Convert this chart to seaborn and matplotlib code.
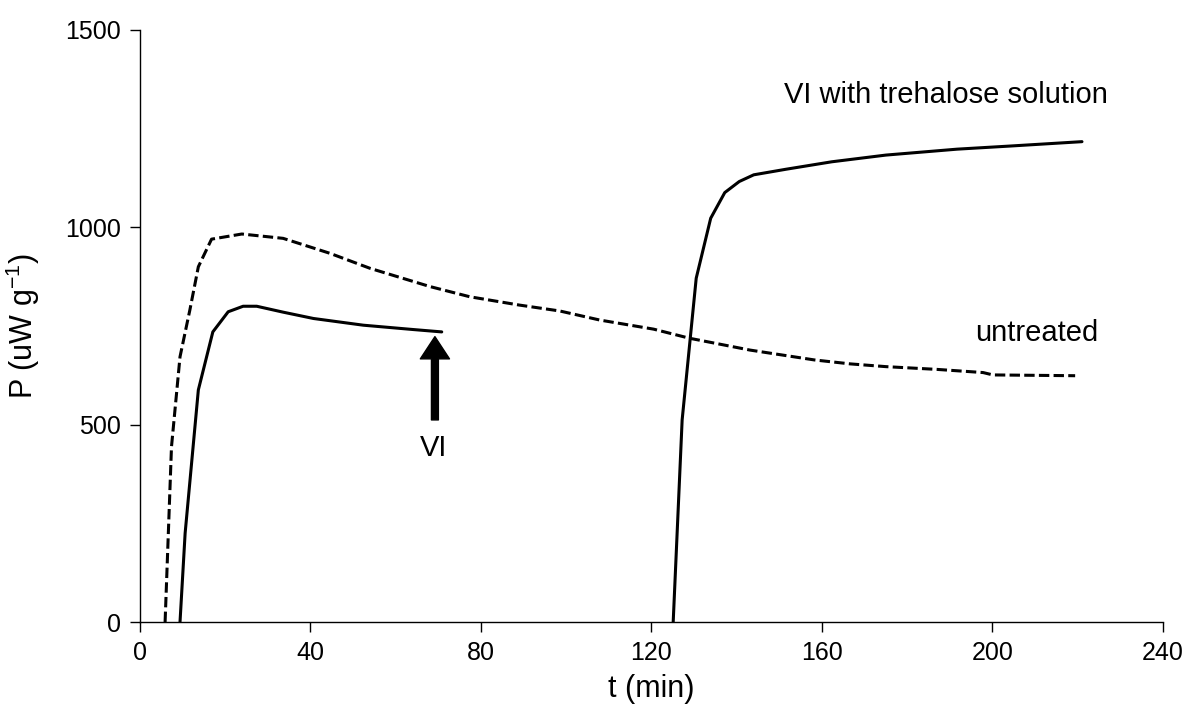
import matplotlib
matplotlib.use("Agg")
import matplotlib.pyplot as plt
import seaborn as sns
import pandas as pd

# Heat flow P (uW g^-1) versus time t (min)
untreated_t = [5.9, 7.4, 9.4, 11.7, 13.7, 16.8, 23.9, 33.6, 44.6, 54.0, 68.0, 77.4,
               89.0, 98.5, 107.9, 120.5, 128.9, 143.1, 158.2, 166.6, 175.0, 187.0,
               197.8, 200.1, 219.4]
untreated_p = [0, 444, 672, 790, 900, 970, 983, 972, 934, 896, 850, 824,
               803, 788, 765, 742, 719, 689, 664, 654, 647, 640,
               632, 626, 624]

vi_t = [9.4, 10.6, 13.7, 17.1, 20.7, 24.2, 27.4, 33.6, 40.7, 52.4, 64.1, 70.8]
vi_p = [0, 225, 588, 735, 786, 800, 800, 785, 769, 752, 741, 735]

treh_t = [125.1, 127.2, 130.5, 133.9, 137.2, 140.6, 144.0, 151.5, 162.3, 175.0,
          191.7, 204.3, 221.0]
treh_p = [0, 512, 871, 1023, 1088, 1116, 1133, 1147, 1166, 1183, 1198, 1206, 1217]

x_ticks = [0, 40, 80, 120, 160, 200, 240]
y_ticks = [0, 500, 1000, 1500]

sns.set_theme(style="ticks")
plt.rcParams["font.family"] = ["Liberation Sans", "DejaVu Sans"]
plt.rcParams["mathtext.fontset"] = "custom"
plt.rcParams["mathtext.rm"] = "Liberation Sans"
plt.rcParams["text.color"] = "black"
plt.rcParams["axes.labelcolor"] = "black"
plt.rcParams["xtick.color"] = "black"
plt.rcParams["ytick.color"] = "black"

fig = plt.figure(figsize=(11.89, 7.22), dpi=100)
ax = fig.add_axes([0.1177, 0.1385, 0.8604, 0.8200])

df_u = pd.DataFrame({"t": untreated_t, "P": untreated_p})
df_v = pd.DataFrame({"t": vi_t, "P": vi_p})
df_h = pd.DataFrame({"t": treh_t, "P": treh_p})

sns.lineplot(data=df_u, x="t", y="P", ax=ax, color="black", lw=2.2, estimator=None)
ax.lines[-1].set_dashes([3.4, 1.4])
ax.lines[-1].set_dash_capstyle("butt")
sns.lineplot(data=df_v, x="t", y="P", ax=ax, color="black", lw=2.2, estimator=None)
sns.lineplot(data=df_h, x="t", y="P", ax=ax, color="black", lw=2.2, estimator=None)

# arrow marking the end of the VI run
ax.annotate("", xy=(69.2, 723), xytext=(69.2, 512),
            arrowprops=dict(facecolor="black", edgecolor="black", width=5,
                            headwidth=21, headlength=16, shrink=0))
ax.text(69.0, 441, "VI", fontsize=21, ha="center", va="center", color="black")
ax.text(189.0, 1335, "VI with trehalose solution", fontsize=21, ha="center",
        va="center", color="black")
ax.text(210.5, 732, "untreated", fontsize=21, ha="center", va="center", color="black")

ax.set_xlim(0, 240)
ax.set_ylim(0, 1500)
ax.set_xticks(x_ticks)
ax.set_yticks(y_ticks)
ax.tick_params(axis="both", labelsize=18, length=7, width=1.0, color="black",
               labelcolor="black", direction="out", pad=7)
ax.set_xlabel("t (min)", fontsize=22, labelpad=6, color="black")
ax.set_ylabel("P (uW g$^{\\mathregular{-1}}$)", fontsize=22, color="black")
ax.yaxis.set_label_coords(-0.096, 0.5)

for side in ["top", "right"]:
    ax.spines[side].set_visible(False)
for side in ["left", "bottom"]:
    ax.spines[side].set_color("black")
    ax.spines[side].set_linewidth(1.0)

fig.savefig("out.png", dpi=100)
